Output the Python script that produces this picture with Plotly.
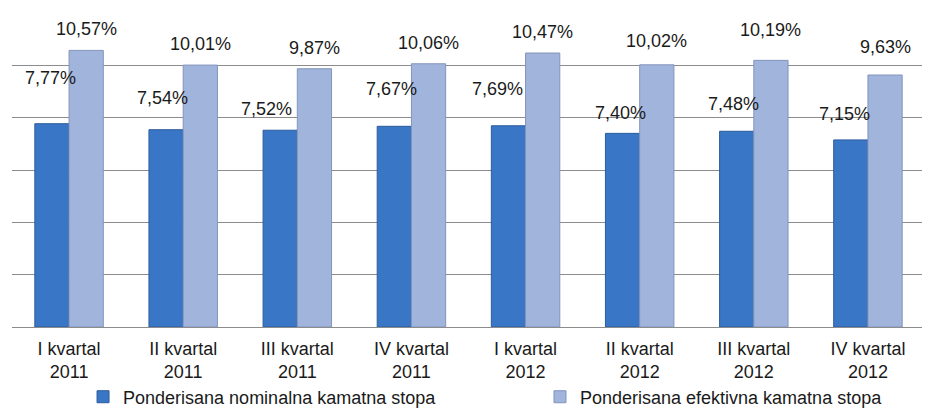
import plotly.graph_objects as go

categories = ["I kvartal<br>2011", "II kvartal<br>2011", "III kvartal<br>2011", "IV kvartal<br>2011",
              "I kvartal<br>2012", "II kvartal<br>2012", "III kvartal<br>2012", "IV kvartal<br>2012"]
nominalna = [7.77, 7.54, 7.52, 7.67, 7.69, 7.40, 7.48, 7.15]
efektivna = [10.57, 10.01, 9.87, 10.06, 10.47, 10.02, 10.19, 9.63]
series_names = ["Ponderisana nominalna kamatna stopa", "Ponderisana efektivna kamatna stopa"]

# label placement styling (pixel offsets above bar top, as in the original chart)
nom_label_dy = [46, 32, 21, 37, 37, 20, 27, 26]
nom_label_dx = [-1, -4, -14, -3, -11, -2, -3, -6]
ef_label_dy = [21, 21, 21, 21, 21, 24, 30, 28]

FONT = "Liberation Sans, Arial, sans-serif"
TXT = "#1a1a1a"
DARK = "#3a76c6"
LIGHT = "#a0b4dc"

fig = go.Figure()
fig.add_trace(go.Bar(x=categories, y=nominalna, name=series_names[0], legend="legend",
                     marker=dict(color=DARK, line=dict(color="#2c5c9c", width=1))))
fig.add_trace(go.Bar(x=categories, y=efektivna, name=series_names[1], legend="legend2",
                     marker=dict(color=LIGHT, line=dict(color="#8394bc", width=1))))

def fmt(v):
    return f"{v:.2f}".replace(".", ",") + "%"

half = 0.15
for i in range(len(categories)):
    fig.add_annotation(x=i - half, y=nominalna[i], text=fmt(nominalna[i]), showarrow=False,
                       yanchor="middle", xanchor="center", yshift=nom_label_dy[i], xshift=nom_label_dx[i],
                       font=dict(family=FONT, size=18, color=TXT))
    fig.add_annotation(x=i + half, y=efektivna[i], text=fmt(efektivna[i]), showarrow=False,
                       yanchor="middle", xanchor="center", yshift=ef_label_dy[i],
                       font=dict(family=FONT, size=18, color=TXT))

legend_style = dict(orientation="h", yanchor="middle", y=-0.223, xanchor="left",
                    font=dict(family=FONT, size=18, color=TXT), itemwidth=30,
                    bgcolor="rgba(0,0,0,0)", borderwidth=0)

# page body has an 8px default margin, so figure margins are shifted accordingly
fig.update_layout(
    width=930, height=412,
    margin=dict(l=4, r=13, t=5, b=93, autoexpand=False),
    paper_bgcolor="white", plot_bgcolor="white",
    barmode="group", bargap=0.4, bargroupgap=0,
    font=dict(family=FONT, size=18, color=TXT),
    showlegend=True,
    legend=dict(x=0.0778, **legend_style),
    legend2=dict(x=0.5783, **legend_style),
)
fig.update_xaxes(showline=True, linecolor="#8c8c8c", linewidth=1, showgrid=False,
                 ticks="outside", ticklen=5, tickcolor="rgba(0,0,0,0)", automargin=False,
                 tickfont=dict(family=FONT, size=18, color=TXT))
fig.update_yaxes(range=[0, 12], dtick=2, showgrid=True, gridcolor="#8c8c8c", gridwidth=1,
                 showticklabels=False, zeroline=False, ticks="", automargin=False)

fig.write_html("out.html")
